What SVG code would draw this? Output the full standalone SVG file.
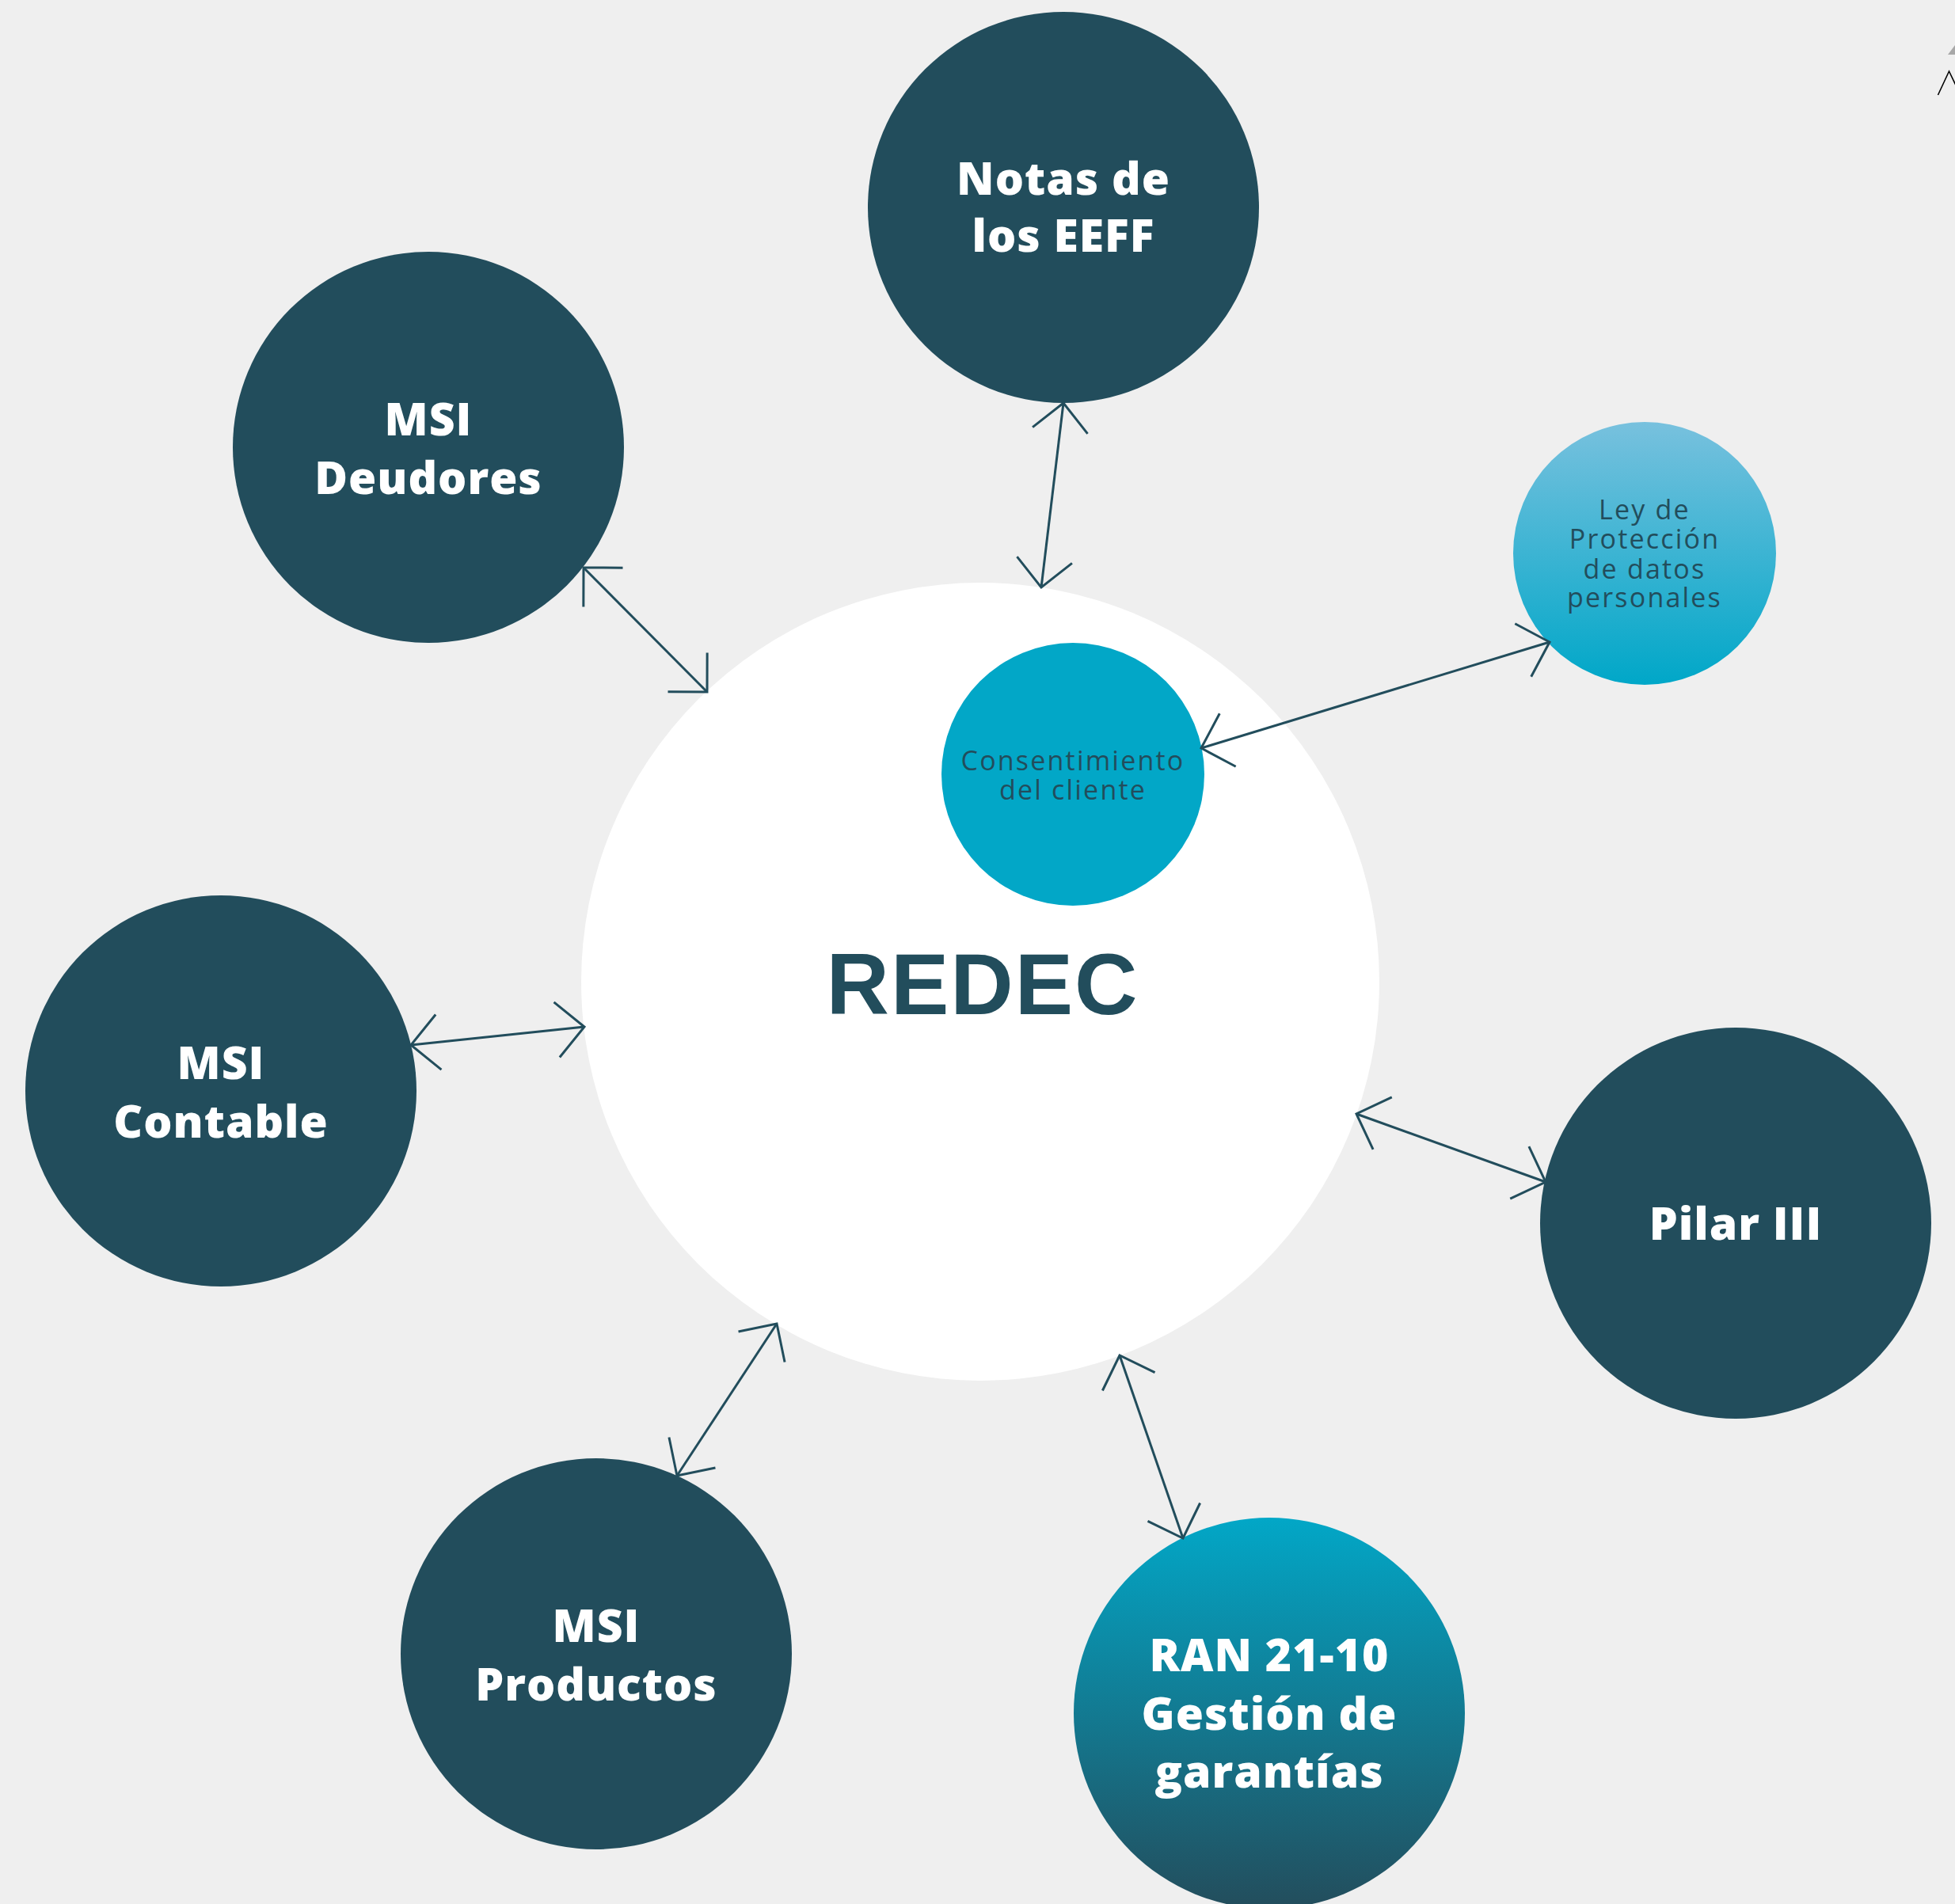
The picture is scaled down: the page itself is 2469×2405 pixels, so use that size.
<svg xmlns="http://www.w3.org/2000/svg" width="2469" height="2405" viewBox="0 0 2469 2405">
  <defs>
    <linearGradient id="gradLey" x1="0" y1="0" x2="0" y2="1">
      <stop offset="0" stop-color="#78c1de"/>
      <stop offset="1" stop-color="#00a7c8"/>
    </linearGradient>
    <linearGradient id="gradRan" x1="0" y1="0" x2="0" y2="1">
      <stop offset="0" stop-color="#02a7c7"/>
      <stop offset="1" stop-color="#234d5c"/>
    </linearGradient>
    <marker id="openHead" markerUnits="userSpaceOnUse" markerWidth="90" markerHeight="90" viewBox="-45 -45 90 90" refX="0" refY="0" orient="auto-start-reverse" overflow="visible">
      <path d="M -35 -35 L 0 0 L -35 35" fill="none" stroke="#224d5c" stroke-width="3"/>
    </marker>
  </defs>
  <style>
    .bg { fill: #efefef; }
    .dark { fill: #224d5c; }
    .hub { fill: #ffffff; }
    .consent { fill: #02a7c7; }
    .lbl { font-family: "Open Sans", "Liberation Sans", sans-serif; font-weight: 800; font-size: 57px; fill: #ffffff; text-anchor: middle; letter-spacing: 1px; }
    .small { font-family: "Open Sans", "Liberation Sans", sans-serif; font-weight: 400; font-size: 34px; fill: #224d5c; text-anchor: middle; letter-spacing: 2.2px; }
    .title { font-family: "Liberation Sans", Arial, sans-serif; font-weight: 700; font-size: 110px; fill: #224d5c; text-anchor: middle; letter-spacing: 2px; }
    .link { stroke: #224d5c; stroke-width: 3; fill: none; marker-start: url(#openHead); marker-end: url(#openHead); }
  </style>

  <rect class="bg" x="0" y="0" width="2469" height="2405"/>

  <!-- corner fragment -->
  <g id="corner-mark">
    <polygon points="2460,69 2469,57 2469,69" fill="#a8a8a8"/>
    <polyline points="2447.5,120 2461.5,90 2472,112" fill="none" stroke="#000000" stroke-width="1.6"/>
  </g>

  <g id="redec">
    <circle class="hub" cx="1238" cy="1240" r="504"/>
    <text class="title" x="1241" y="1281">REDEC</text>
  </g>

  <g id="consentimiento">
    <circle class="consent" cx="1355" cy="978" r="166"/>
    <text class="small" x="1355" y="973">Consentimiento</text>
    <text class="small" x="1355" y="1010">del cliente</text>
  </g>

  <g id="ley-proteccion">
    <circle cx="2077" cy="699" r="166" fill="url(#gradLey)"/>
    <text class="small" x="2077" y="656">Ley de</text>
    <text class="small" x="2077" y="693">Protección</text>
    <text class="small" x="2077" y="731">de datos</text>
    <text class="small" x="2077" y="767">personales</text>
  </g>

  <g id="notas-eeff">
    <circle class="dark" cx="1343" cy="262" r="247"/>
    <text class="lbl" x="1343" y="246">Notas de</text>
    <text class="lbl" x="1343" y="318">los EEFF</text>
  </g>

  <g id="msi-deudores">
    <circle class="dark" cx="541" cy="565" r="247"/>
    <text class="lbl" x="541" y="550">MSI</text>
    <text class="lbl" x="541" y="624">Deudores</text>
  </g>

  <g id="msi-contable">
    <circle class="dark" cx="279" cy="1378" r="247"/>
    <text class="lbl" x="279" y="1363">MSI</text>
    <text class="lbl" x="279" y="1437">Contable</text>
  </g>

  <g id="msi-productos">
    <circle class="dark" cx="753" cy="2089" r="247"/>
    <text class="lbl" x="753" y="2074">MSI</text>
    <text class="lbl" x="753" y="2148">Productos</text>
  </g>

  <g id="pilar-iii">
    <circle class="dark" cx="2192" cy="1545" r="247"/>
    <text class="lbl" x="2192" y="1566">Pilar III</text>
  </g>

  <g id="ran-21-10">
    <circle cx="1603" cy="2164" r="247" fill="url(#gradRan)"/>
    <text class="lbl" x="1603" y="2111">RAN 21-10</text>
    <text class="lbl" x="1603" y="2185">Gestión de</text>
    <text class="lbl" x="1603" y="2258">garantías</text>
  </g>

  <!-- two-way connectors -->
  <g id="connectors">
    <line class="link" x1="1343" y1="509" x2="1315" y2="742"/>
    <line class="link" x1="737" y1="717" x2="893" y2="874"/>
    <line class="link" x1="519" y1="1320" x2="738" y2="1297"/>
    <line class="link" x1="981" y1="1672" x2="855" y2="1864"/>
    <line class="link" x1="1414" y1="1712" x2="1494" y2="1943"/>
    <line class="link" x1="1713" y1="1407" x2="1952" y2="1493"/>
    <line class="link" x1="1517" y1="945" x2="1957" y2="811"/>
  </g>
</svg>
